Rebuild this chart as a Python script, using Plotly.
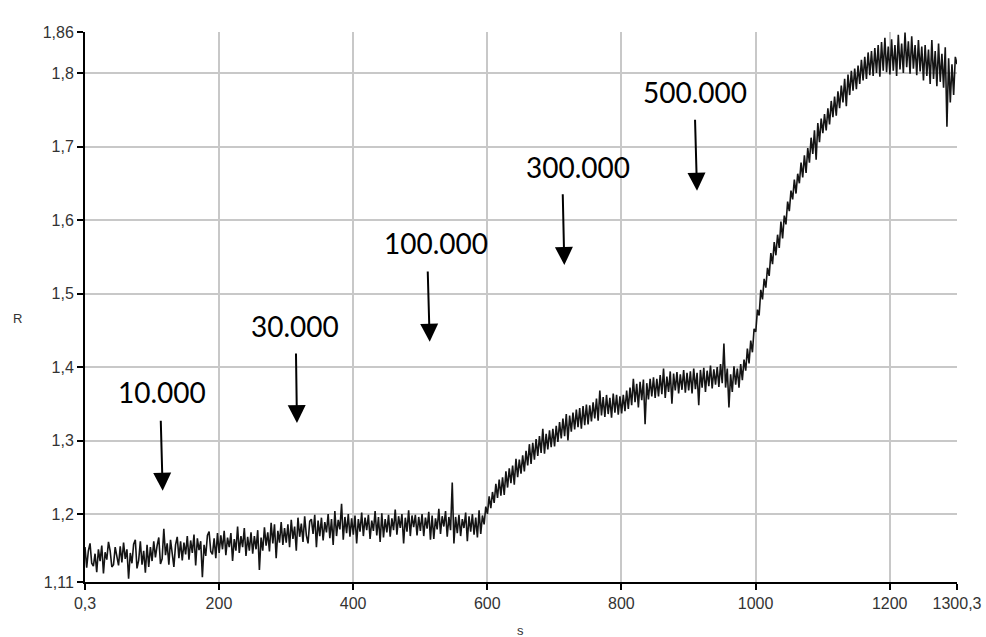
import plotly.graph_objects as go

# ---- data (one reading every 2.5 s) ----
time_s = [0.3 + 2.5 * i for i in range(521)]
resistance = [
    # 0 - 47.5
    1.155, 1.127, 1.150, 1.160, 1.133, 1.129, 1.146, 1.121, 1.152, 1.136, 1.157, 1.119, 1.148, 1.138, 1.162, 1.150, 1.128, 1.131, 1.155, 1.140,
    # 50 - 97.5
    1.130, 1.156, 1.134, 1.161, 1.139, 1.152, 1.112, 1.147, 1.133, 1.159, 1.165, 1.126, 1.137, 1.163, 1.131, 1.150, 1.120, 1.158, 1.128, 1.155,
    # 100 - 147.5
    1.136, 1.163, 1.141, 1.157, 1.168, 1.132, 1.139, 1.180, 1.144, 1.160, 1.131, 1.165, 1.147, 1.128, 1.158, 1.169, 1.140, 1.163, 1.137, 1.161,
    # 150 - 197.5
    1.145, 1.170, 1.138, 1.164, 1.147, 1.172, 1.130, 1.167, 1.151, 1.163, 1.114, 1.158, 1.143, 1.171, 1.176, 1.149, 1.145, 1.167, 1.140, 1.174,
    # 200 - 247.5
    1.147, 1.171, 1.152, 1.177, 1.144, 1.168, 1.155, 1.174, 1.136, 1.166, 1.150, 1.183, 1.147, 1.170, 1.155, 1.181, 1.143, 1.169, 1.150, 1.175,
    # 250 - 297.5
    1.146, 1.170, 1.152, 1.178, 1.124, 1.168, 1.150, 1.182, 1.157, 1.175, 1.149, 1.188, 1.160, 1.186, 1.140, 1.177, 1.161, 1.189, 1.158, 1.181,
    # 300 - 347.5
    1.161, 1.186, 1.155, 1.192, 1.166, 1.183, 1.150, 1.195, 1.169, 1.187, 1.162, 1.197, 1.171, 1.160, 1.190, 1.193, 1.173, 1.199, 1.155, 1.191,
    # 350 - 397.5
    1.170, 1.195, 1.164, 1.189, 1.175, 1.200, 1.167, 1.193, 1.158, 1.204, 1.170, 1.192, 1.179, 1.214, 1.165, 1.196, 1.174, 1.200, 1.169, 1.194,
    # 400 - 447.5
    1.172, 1.198, 1.160, 1.193, 1.176, 1.202, 1.170, 1.195, 1.178, 1.199, 1.166, 1.191, 1.177, 1.204, 1.171, 1.196, 1.162, 1.201, 1.168, 1.193,
    # 450 - 497.5
    1.175, 1.199, 1.169, 1.194, 1.178, 1.206, 1.172, 1.197, 1.181, 1.200, 1.160, 1.195, 1.176, 1.205, 1.170, 1.198, 1.182, 1.199, 1.171, 1.196,
    # 500 - 547.5
    1.177, 1.200, 1.170, 1.195, 1.180, 1.203, 1.165, 1.198, 1.166, 1.194, 1.179, 1.207, 1.173, 1.197, 1.183, 1.204, 1.169, 1.196, 1.178, 1.243,
    # 550 - 597.5
    1.160, 1.196, 1.174, 1.199, 1.170, 1.193, 1.181, 1.202, 1.163, 1.197, 1.176, 1.200, 1.172, 1.195, 1.168, 1.205, 1.173, 1.198, 1.186, 1.210,
    # 600 - 647.5
    1.200, 1.224, 1.208, 1.230, 1.215, 1.241, 1.222, 1.247, 1.225, 1.250, 1.226, 1.258, 1.236, 1.262, 1.242, 1.266, 1.240, 1.275, 1.250, 1.274,
    # 650 - 697.5
    1.255, 1.280, 1.258, 1.286, 1.266, 1.295, 1.268, 1.297, 1.274, 1.302, 1.279, 1.306, 1.283, 1.316, 1.282, 1.309, 1.288, 1.314, 1.291, 1.316,
    # 700 - 747.5
    1.292, 1.320, 1.298, 1.325, 1.303, 1.330, 1.306, 1.336, 1.300, 1.334, 1.312, 1.338, 1.315, 1.342, 1.318, 1.344, 1.316, 1.347, 1.321, 1.349,
    # 750 - 797.5
    1.322, 1.348, 1.326, 1.352, 1.330, 1.357, 1.327, 1.368, 1.334, 1.359, 1.332, 1.362, 1.336, 1.358, 1.331, 1.364, 1.338, 1.362, 1.335, 1.360,
    # 800 - 847.5
    1.337, 1.362, 1.340, 1.368, 1.343, 1.372, 1.348, 1.384, 1.352, 1.377, 1.345, 1.380, 1.355, 1.383, 1.322, 1.378, 1.356, 1.384, 1.360, 1.386,
    # 850 - 897.5
    1.358, 1.384, 1.360, 1.389, 1.363, 1.398, 1.358, 1.387, 1.366, 1.394, 1.350, 1.391, 1.368, 1.393, 1.364, 1.390, 1.369, 1.396, 1.365, 1.392,
    # 900 - 947.5
    1.368, 1.394, 1.364, 1.398, 1.370, 1.392, 1.348, 1.396, 1.372, 1.399, 1.366, 1.395, 1.374, 1.402, 1.371, 1.397, 1.376, 1.400, 1.373, 1.404,
    # 950 - 997.5
    1.378, 1.432, 1.372, 1.398, 1.345, 1.390, 1.366, 1.401, 1.376, 1.398, 1.372, 1.404, 1.382, 1.410, 1.395, 1.425, 1.405, 1.436, 1.420, 1.452,
    # 1000 - 1047.5
    1.448, 1.478, 1.470, 1.505, 1.492, 1.520, 1.508, 1.535, 1.524, 1.555, 1.540, 1.570, 1.552, 1.580, 1.562, 1.598, 1.575, 1.606, 1.594, 1.625,
    # 1050 - 1097.5
    1.612, 1.640, 1.628, 1.655, 1.636, 1.663, 1.650, 1.678, 1.658, 1.688, 1.664, 1.698, 1.678, 1.712, 1.690, 1.722, 1.682, 1.732, 1.706, 1.738,
    # 1100 - 1147.5
    1.718, 1.744, 1.722, 1.752, 1.730, 1.762, 1.740, 1.768, 1.742, 1.775, 1.752, 1.783, 1.760, 1.792, 1.755, 1.798, 1.770, 1.803, 1.776, 1.806,
    # 1150 - 1197.5
    1.778, 1.810, 1.785, 1.818, 1.790, 1.822, 1.792, 1.828, 1.797, 1.830, 1.796, 1.834, 1.800, 1.838, 1.795, 1.842, 1.803, 1.848, 1.801, 1.836,
    # 1200 - 1247.5
    1.798, 1.846, 1.803, 1.838, 1.796, 1.852, 1.805, 1.840, 1.800, 1.855, 1.808, 1.843, 1.799, 1.850, 1.806, 1.838, 1.797, 1.845, 1.802, 1.836,
    # 1250 - 1297.5
    1.790, 1.838, 1.796, 1.832, 1.785, 1.845, 1.792, 1.830, 1.782, 1.840, 1.788, 1.826, 1.780, 1.835, 1.727, 1.820, 1.760, 1.812, 1.770, 1.822,
    # 1300
    1.812,
]

x_tick_vals = [0.3, 200, 400, 600, 800, 1000, 1200, 1300.3]
x_tick_text = ["0,3", "200", "400", "600", "800", "1000", "1200", "1300,3"]
y_min, y_max = 1.1075, 1.8558
y_tick_vals = [y_min, 1.2, 1.3, 1.4, 1.5, 1.6, 1.7, 1.8, y_max]
y_tick_text = ["1,11", "1,2", "1,3", "1,4", "1,5", "1,6", "1,7", "1,8", "1,86"]

labels = ["10.000", "30.000", "100.000", "300.000", "500.000"]
label_x = [115.1, 313.3, 524.3, 735.3, 910.4]
label_y = [1.3660, 1.4558, 1.5694, 1.6721, 1.7746]
arrow_tail_x = [113.2, 314.8, 511.2, 712.5, 909.7]
arrow_tail_y = [1.3289, 1.4204, 1.5320, 1.6372, 1.7384]
arrow_head_x = [116.1, 316.3, 514.2, 714.9, 912.7]
arrow_head_y = [1.2317, 1.3238, 1.4344, 1.5388, 1.6399]

fig = go.Figure()
fig.add_trace(go.Scatter(
    x=time_s, y=resistance, mode="lines",
    line=dict(color="#141414", width=1.6),
    showlegend=False, hoverinfo="skip",
))

annotations = []
for t, lx, ly in zip(labels, label_x, label_y):
    annotations.append(dict(
        x=lx, y=ly, xref="x", yref="y", text=t, showarrow=False,
        font=dict(family="Lato, Carlito, sans-serif", size=28, color="#000000"),
        xanchor="center", yanchor="middle",
    ))
for tx, ty, hx, hy in zip(arrow_tail_x, arrow_tail_y, arrow_head_x, arrow_head_y):
    annotations.append(dict(
        x=hx, y=hy, ax=tx, ay=ty, xref="x", yref="y", axref="x", ayref="y",
        text="", showarrow=True, arrowhead=2, arrowsize=1.8, arrowwidth=2,
        arrowcolor="#000000", standoff=0, startstandoff=0,
    ))

W, H = 986, 637
ml, mr, mt, mb = 85, 29, 32, 55
pw, ph = W - ml - mr, H - mt - mb
annotations.append(dict(
    x=(17 - ml) / pw, y=(H - mb - 318) / ph, xref="paper", yref="paper",
    text="R", showarrow=False, xanchor="center", yanchor="middle",
    font=dict(family="Liberation Sans, Arial", size=13, color="#333333"),
))
annotations.append(dict(
    x=(520 - ml) / pw, y=(H - mb - 630) / ph, xref="paper", yref="paper",
    text="s", showarrow=False, xanchor="center", yanchor="middle",
    font=dict(family="Liberation Sans, Arial", size=13, color="#333333"),
))

fig.update_layout(
    width=W, height=H,
    margin=dict(l=ml, r=mr, t=mt, b=mb, pad=0, autoexpand=False),
    paper_bgcolor="white", plot_bgcolor="white",
    annotations=annotations,
    xaxis=dict(
        range=[0.3, 1300.3], tickmode="array", tickvals=x_tick_vals, ticktext=x_tick_text,
        showgrid=True, gridcolor="#c8c8c8", gridwidth=1.5,
        showline=True, linecolor="#000000", linewidth=2,
        ticks="outside", ticklen=6, tickwidth=2, tickcolor="#000000",
        tickfont=dict(family="Liberation Sans, Arial", size=16, color="#333333"),
        zeroline=False, fixedrange=True, automargin=False,
    ),
    yaxis=dict(
        range=[y_min, y_max], tickmode="array", tickvals=y_tick_vals, ticktext=y_tick_text,
        showgrid=True, gridcolor="#c8c8c8", gridwidth=1.5,
        showline=True, linecolor="#000000", linewidth=2,
        ticks="outside", ticklen=6, tickwidth=2, tickcolor="#000000",
        tickfont=dict(family="Liberation Sans, Arial", size=16, color="#333333"),
        zeroline=False, fixedrange=True, automargin=False,
    ),
)

fig.write_html("out.html", config={"displayModeBar": False})
